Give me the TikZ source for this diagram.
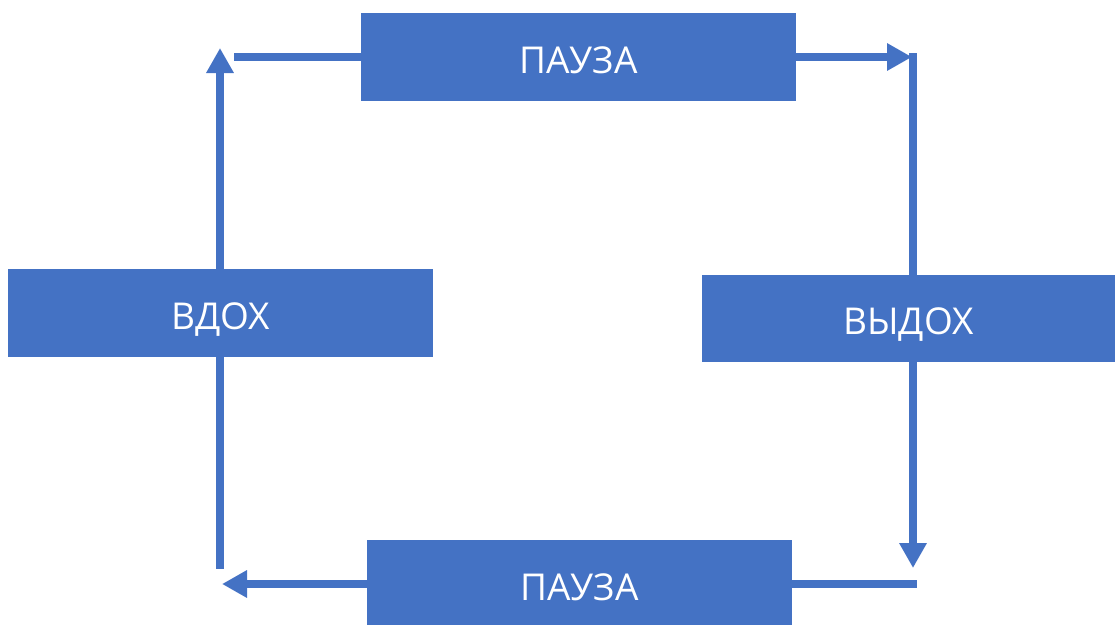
\documentclass[tikz,border=0pt]{standalone}
\usepackage{fontspec}
\setmainfont{Open Sans}
\usetikzlibrary{arrows.meta}
\definecolor{offblue}{HTML}{4472C4}
\begin{document}
\begin{tikzpicture}[x=1pt,y=-1pt,
  box/.style={fill=offblue,draw=none,text=white,font=\fontsize{37}{44}\selectfont,inner sep=0pt,text height=32pt,text depth=0pt},
  link/.style={draw=offblue,line width=8pt},
  arr/.style={link,-{Triangle[length=25pt,width=26pt]}}]
\useasboundingbox (0,0) rectangle (1115,624);
\begin{scope}
\clip (0,0) rectangle (1115,624);
\node[box,minimum width=435pt,minimum height=88pt] (p1) at (578.5,57) {ПАУЗА};
\node[box,minimum width=425pt,minimum height=88pt] (in) at (220.5,313) {ВДОХ};
\node[box,minimum width=413pt,minimum height=87pt] (out) at (908.5,318.5) {ВЫДОХ};
\node[box,minimum width=425pt,minimum height=88pt] (p2) at (579.5,584) {ПАУЗА};
\end{scope}
% corner coordinates
\coordinate (tlH) at (234,57);
\coordinate (tlV) at (220,48);
\coordinate (trH) at (912,57);
\coordinate (trV) at (913,53);
\coordinate (brV) at (913,568);
\coordinate (brH) at (917,584);
\coordinate (blH) at (222,584);
\coordinate (blV) at (220,569);
% top-left
\draw[link] (p1.west) -- (tlH);
\draw[arr] (in.north -| tlV) -- (tlV);
% top-right
\draw[arr] (p1.east) -- (trH);
\draw[link] (trV) -- (out.north -| trV);
% bottom-right
\draw[arr] (out.south -| brV) -- (brV);
\draw[link] (p2.east) -- (brH);
% bottom-left
\draw[arr] (p2.west) -- (blH);
\draw[link] (in.south -| blV) -- (blV);
\end{tikzpicture}
\end{document}
